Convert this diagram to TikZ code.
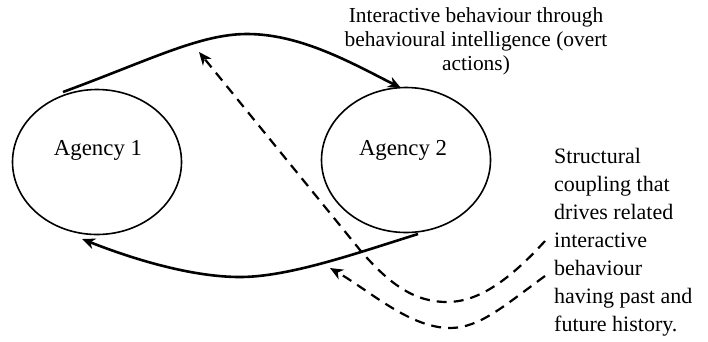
\documentclass[tikz,border=0pt]{standalone}
\usepackage{fontspec}
\setmainfont{Liberation Serif}
\usetikzlibrary{arrows.meta,calc,shapes.geometric}
\begin{document}
\begin{tikzpicture}[x=1pt,y=-1pt,
  agency/.style={draw,ellipse,line width=1.6pt,minimum width=169pt,minimum height=145pt,inner sep=0pt},
  agtext/.style={font=\fontsize{22.8pt}{26pt}\selectfont,inner sep=0pt},
  flow/.style={line width=2.6pt,-{Stealth[length=13pt,width=11pt,inset=4pt]}},
  coupling/.style={line width=2.2pt,dash pattern=on 10pt off 7pt,-{Stealth[length=13pt,width=11pt,inset=4pt]}},
  lbl/.style={font=\fontsize{21.4pt}{24pt}\selectfont,inner sep=0pt,align=center},
  rlbl/.style={font=\fontsize{22pt}{28pt}\selectfont,inner sep=0pt,align=left}]
\useasboundingbox (0,0) rectangle (708,341);
\node[agency] (a1) at (97,162) {};
\node[agency] (a2) at (406,160) {};
\node[agtext] (t1) at (98,150) {Agency 1};
\node[agtext] (t2) at (403,150) {Agency 2};
\node[lbl,anchor=north] (top) at (476,7) {Interactive behaviour through\\behavioural intelligence (overt\\actions)};
\node[rlbl,anchor=north west] (right) at (554,148) {Structural\\coupling that\\drives related\\interactive\\behaviour\\having past and\\future history.};
\coordinate (s1) at (63,92);
\coordinate (pk) at (247,34);
\coordinate (e1) at (401,88);
\coordinate (s2) at (418,234);
\coordinate (mn) at (240,277);
\coordinate (e2) at (82,239);
\draw[flow] (s1) .. controls (150,60) and (200,34) .. (pk) .. controls (300,34) and (350,62) .. (e1);
\draw[flow] (s2) .. controls (360,252) and (290,277) .. (mn) .. controls (190,277) and (130,258) .. (e2);
\coordinate (d1s) at (545,241);
\coordinate (d1b) at (447,302);
\coordinate (d1m) at (360,250);
\coordinate (d1e) at (199,52);
\coordinate (d2s) at (545,276);
\coordinate (d2b) at (450,328);
\coordinate (d2e) at (330,268);
\draw[coupling] (d1s) .. controls (505,285) and (475,302) .. (d1b) .. controls (415,302) and (390,285) .. (d1m) -- (d1e);
\draw[coupling] (d2s) .. controls (505,305) and (480,328) .. (d2b) .. controls (410,328) and (370,291) .. (d2e);
\end{tikzpicture}
\end{document}
